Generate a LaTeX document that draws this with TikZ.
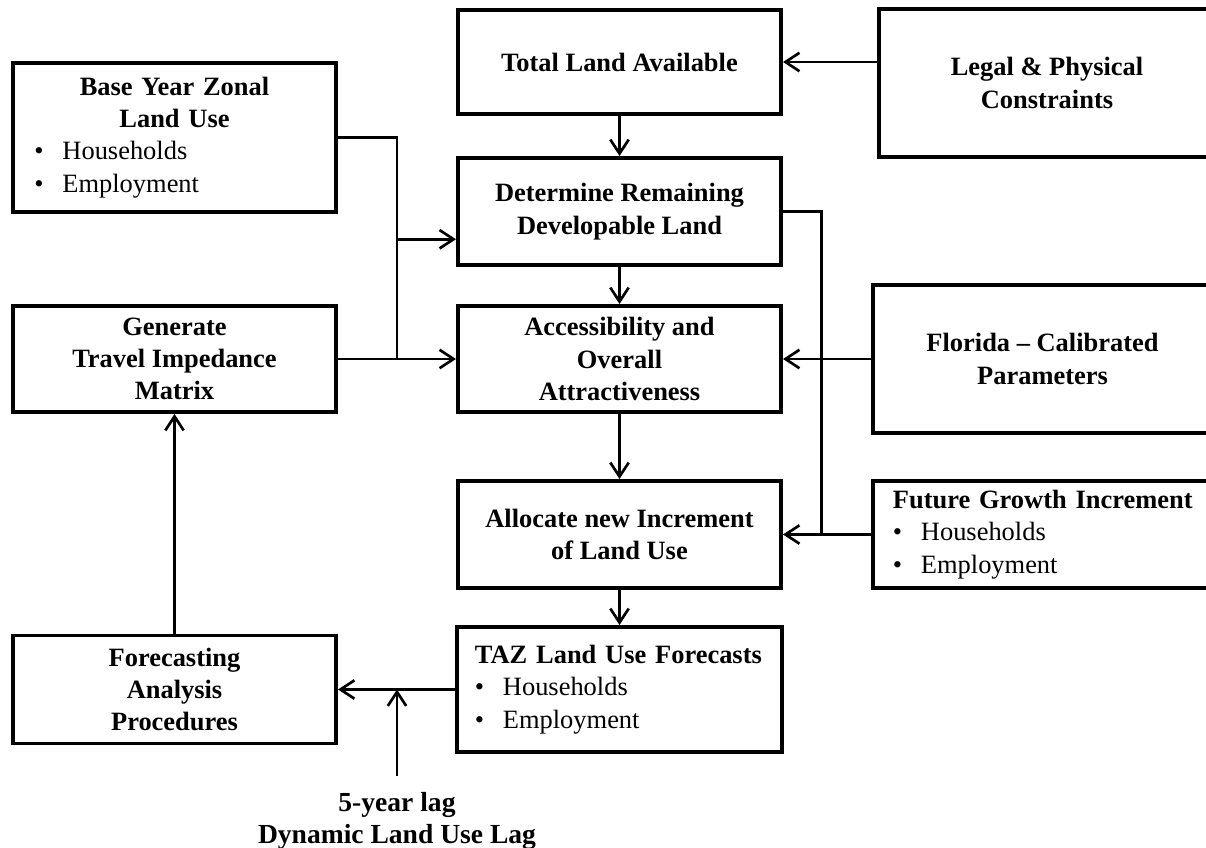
\documentclass[tikz,border=0pt]{standalone}
\usepackage{fontspec}
\setmainfont{Liberation Serif}
\usetikzlibrary{arrows.meta, calc, positioning}
\newcommand{\bul}{\makebox[0.7cm][l]{\textbullet}}

\begin{document}
\begin{tikzpicture}[x=0.025cm, y=-0.025cm,
		>={Straight Barb[length=3.5mm, width=4.6mm]},
		every node/.style={font=\fontsize{18.8}{23}\selectfont},
		box/.style={draw, line width=2.8pt, inner sep=0pt, align=center, font=\fontsize{18.8}{23}\selectfont\bfseries},
		listbox/.style={draw, line width=2.8pt, inner xsep=0.5cm, inner ysep=0pt},
		conn/.style={line width=1.9pt}]
		
		\useasboundingbox (0,0) rectangle (1206,848);
		\clip (0,0) rectangle (1206,848);
		
		% middle column
		\node[box, minimum width=8.075cm, minimum height=2.6cm] (total) at (619.5,62) {Total Land Available};
		\node[box, minimum width=8.075cm, minimum height=2.675cm] (determine) at (619.5,211.5) {Determine Remaining\\Developable Land};
		\node[box, minimum width=8.075cm, minimum height=2.65cm] (access) at (619.5,359) {Accessibility and\\Overall\\Attractiveness};
		\node[box, minimum width=8.075cm, minimum height=2.675cm] (allocate) at (619.5,534.5) {Allocate new Increment\\of Land Use};
		\node[listbox, inner xsep=0.45cm, text width=7.225cm, align=left, minimum height=3.125cm] (taz) at (619.5,689.5)
		{\mbox{\textbf{TAZ Land Use Forecasts}}\\\bul Households\\\bul Employment};
		
		% left column
		\node[listbox, text width=7.075cm, align=center, minimum height=3.725cm] (base) at (174.5,137.5)
		{\textbf{Base Year Zonal}\\\textbf{Land Use}\\\makebox[7cm][l]{\bul Households}\\\makebox[7cm][l]{\bul Employment}};
		\node[box, minimum width=8.075cm, minimum height=2.65cm] (generate) at (174.5,359) {Generate\\Travel Impedance\\Matrix};
		\node[box, minimum width=8.075cm, minimum height=2.7cm] (forecast) at (174.5,689.5) {Forecasting\\Analysis\\Procedures};
		
		% right column
		\node[box, minimum width=8.4cm, minimum height=3.7cm] (legal) at (1047,83) {Legal \& Physical\\Constraints};
		\node[box, minimum width=8.475cm, minimum height=3.7cm] (florida) at (1042.5,359) {Florida -- Calibrated\\Parameters};
		\node[listbox, text width=7.925cm, align=left, minimum height=2.675cm] (future) at (1051.5,534.5)
		{\mbox{\textbf{Future Growth Increment}}\\\bul Households\\\bul Employment};
		
		\node[font=\fontsize{19.6}{22.5}\selectfont\bfseries, align=center, anchor=north, inner sep=0pt] (lag) at (397,792)
		{5-year lag\\Dynamic Land Use Lag};
		
		% buses
		\coordinate (wbus) at ($(base.east)!.5!(base.east -| determine.west)$);
		\coordinate (ebus) at ($(determine.east)!.435!(determine.east -| florida.west)$);
		\coordinate (din) at ($(determine.south west)!.25!(determine.north west)$);
		\coordinate (lagstart) at ([yshift=0.4cm]lag.north);
		
		\draw[conn] (base.east) -| (wbus |- generate.east);
		\draw[conn, ->] (wbus |- din) -- (din);
		\draw[conn, ->] (generate.east) -- (access.west);
		
		\draw[conn] (determine.east) -| (ebus |- future.west);
		\draw[conn, ->] (future.west) -- (allocate.east);
		\draw[conn, ->] (florida.west) -- (access.east);
		\draw[conn, ->] (legal.west |- total.east) -- (total.east);
		
		\foreach \a/\b in {total/determine, determine/access, access/allocate, allocate/taz}
		\draw[conn, ->] (\a.south) -- (\b.north);
		
		\draw[conn, ->] (taz.west) -- (forecast.east);
		\draw[conn, ->] (forecast.north) -- (generate.south);
		\draw[conn, ->] (lagstart) -- (lagstart |- taz.west);
		
	\end{tikzpicture}
\end{document}
